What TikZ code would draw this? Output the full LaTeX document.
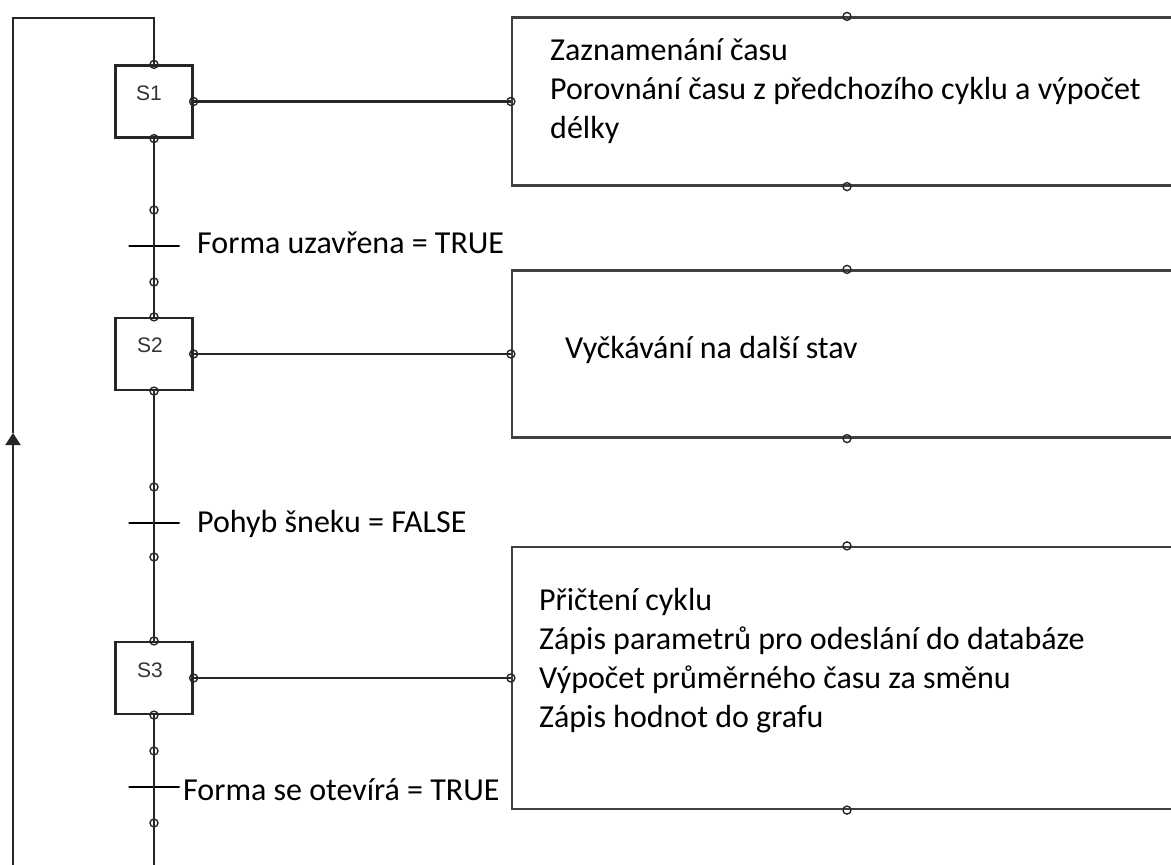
\documentclass[tikz,border=0pt]{standalone}
\usepackage{fontspec}
\setmainfont{Carlito}
\newfontfamily\steplabelfont{Liberation Sans}
\usetikzlibrary{arrows.meta}
\begin{document}
\begin{tikzpicture}[x=1pt,y=-1pt,
  wire/.style={line width=2.2pt, draw=black!85},
  stepbox/.style={draw=black!85, line width=2.2pt, rectangle, minimum width=77pt, minimum height=72pt, inner sep=0pt},
  steplabel/.style={font=\steplabelfont\fontsize{21}{21}\selectfont, text=black!80, inner sep=0pt},
  actbox/.style={draw=black!75, line width=2.2pt, rectangle, minimum width=670pt, inner sep=0pt},
  port/.style={draw=black!85, circle, line width=1.4pt, minimum size=8pt, inner sep=0pt},
  tbar/.style={draw=black, line width=2pt, rectangle, minimum width=51pt, minimum height=0pt, inner sep=0pt},
  note/.style={font=\fontsize{32}{39}\selectfont, inner sep=0pt, align=left},
]
\useasboundingbox (0,0) rectangle (1171,865);

% steps
\node[stepbox] (s1) at (154,101.5) {};
\node[stepbox] (s2) at (154,354) {};
\node[stepbox] (s3) at (154,678) {};
\node[steplabel] (s1l) at (149,93) {S1};
\node[steplabel] (s2l) at (150,345) {S2};
\node[steplabel] (s3l) at (150,670) {S3};

% action blocks (open towards the right edge)
\node[actbox, minimum height=168pt] (a1) at (847,101.5) {};
\node[actbox, minimum height=167pt] (a2) at (847,354) {};
\node[actbox, minimum height=262pt] (a3) at (847,678) {};

% transitions
\node[tbar] (t1) at (154,246) {};
\node[tbar] (t2) at (154,523) {};
\node[tbar] (t3) at (154,787) {};

% sequence links
\draw[wire] (s1.south) -- (t1.center) -- (s2.north);
\draw[wire] (s2.south) -- (t2.center) -- (s3.north);
\coordinate (seqend) at (154,865);
\draw[wire] (s3.south) -- (t3.center) -- (seqend);

% step to action links
\draw[wire] (s1.east) -- (a1.west);
\draw[wire] (s2.east) -- (a2.west);
\draw[wire] (s3.east) -- (a3.west);

% return loop
\coordinate (ret) at (13,865);
\coordinate (tip) at (13,433);
\coordinate (corner) at (13,18);
\draw[wire, -{Triangle[width=15pt,length=12pt]}] (ret) -- (tip);
\draw[wire] (tip) -- (corner) -| (s1.north);

% texts
\node[note, anchor=west] (n1) at (550,91.5) {Zaznamenání času\\Porovnání času z předchozího cyklu a výpočet\\délky};
\node[note, anchor=base west] (n2) at (565,358) {Vyčkávání na další stav};
\node[note, anchor=west] (n3) at (539,661) {Přičtení cyklu\\Zápis parametrů pro odeslání do databáze\\Výpočet průměrného času za směnu\\Zápis hodnot do grafu};
\node[note, anchor=base west] (c1) at (197,253) {Forma uzavřena = TRUE};
\node[note, anchor=base west] (c2) at (197,532) {Pohyb šneku = FALSE};
\node[note, anchor=base west] (c3) at (183,800) {Forma se otevírá = TRUE};

% connection points
\foreach \p in {s1.north,s1.east,s1.south,s2.north,s2.east,s2.south,s3.north,s3.east,s3.south,
                a1.west,a1.north,a1.south,a2.west,a2.north,a2.south,a3.west,a3.north,a3.south}
  \node[port] at (\p) {};
\node[port] (p1) at (154,210) {};
\node[port] (p2) at (154,282) {};
\node[port] (p3) at (154,487) {};
\node[port] (p4) at (154,557) {};
\node[port] (p5) at (154,751) {};
\node[port] (p6) at (154,823) {};
\end{tikzpicture}
\end{document}
